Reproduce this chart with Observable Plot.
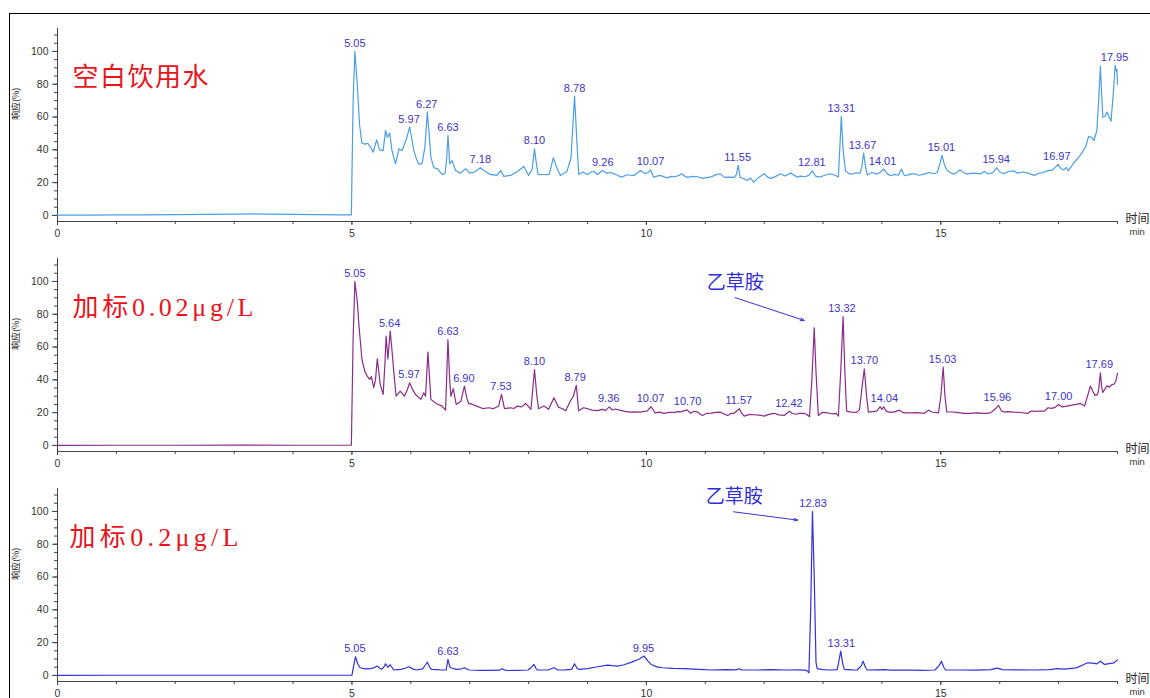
<!DOCTYPE html>
<html>
<head>
<meta charset="utf-8">
<script src="https://cdn.jsdelivr.net/npm/d3@7"></script>
<script src="https://cdn.jsdelivr.net/npm/@observablehq/plot@0.6"></script>
<style>
  body { margin: 0; background: #fff; }
  #wrap { position: relative; width: 1150px; height: 698px; overflow: hidden; background: #fff; }
  #frame { position: absolute; left: 9px; top: 13px; width: 1160px; height: 700px; border: 1px solid #000; box-sizing: border-box; }
  .panel { position: absolute; left: 0; }
</style>
</head>
<body>
<div id="wrap">
  <div id="frame"></div>
  <div class="panel" id="p1" style="top:0px"></div>
  <div class="panel" id="p2" style="top:230px"></div>
  <div class="panel" id="p3" style="top:460px"></div>
</div>
<script>
// ---------- data (time in min, response in %) ----------
const panelTitles = ["空白饮用水", "加标0.02μg/L", "加标0.2μg/L"];
const yTitle = "响应(%)";
const xTitle = "时间";
const xUnit = "min";
const xMajorTicks = [0, 5, 10, 15];
const xMinorTicks = [0,1,2,3,4,5,6,7,8,9,10,11,12,13,14,15,16,17,18];
const yMajorTicks = [0, 20, 40, 60, 80, 100];
const yMinorTicks = [0,5,10,15,20,25,30,35,40,45,50,55,60,65,70,75,80,85,90,95,100,105,110];

const blankWater = [[0,0.2],[0.5,0.2],[1,0.3],[1.5,0.3],[2,0.5],[2.5,0.6],[3,0.8],[3.3,1.0],[3.6,0.8],[4,0.7],[4.4,0.5],[4.8,0.4],[4.99,0.4],
[5.02,70],[5.05,100],[5.09,80],[5.13,55],[5.17,44],[5.22,43.5],[5.27,44],[5.31,42],[5.36,38.6],[5.42,46.1],[5.47,40],[5.53,39.5],[5.57,51.8],[5.60,47.6],[5.64,50.2],[5.68,39.5],[5.74,31.5],[5.80,40.7],[5.85,39.6],[5.92,46],[5.98,53.9],[6.02,46],[6.05,39.6],[6.10,34],[6.13,31.5],[6.19,31.5],[6.24,42],[6.28,63],[6.31,50],[6.34,35.6],[6.39,29.1],[6.45,28.5],[6.53,25],[6.58,25.4],[6.61,35],[6.63,48.8],[6.66,31.5],[6.70,33.5],[6.76,27.4],[6.84,25.8],[6.93,28.5],[7.00,25.8],[7.08,26.5],[7.18,29.1],[7.26,27],[7.35,25],[7.46,24.4],[7.53,27.4],[7.58,23.8],[7.69,24.4],[7.81,26.8],[7.92,29.9],[8.00,24.4],[8.06,28],[8.10,40.6],[8.13,32],[8.16,25],[8.26,24.8],[8.35,25],[8.42,35.2],[8.47,29.9],[8.54,24.4],[8.65,26.8],[8.72,35],[8.78,72.8],[8.82,45],[8.85,25],[8.92,26.5],[9.00,25],[9.06,26.5],[9.11,26.8],[9.17,25],[9.25,27.4],[9.33,25.8],[9.39,26.2],[9.44,25.5],[9.50,24.8],[9.56,23.4],[9.62,24],[9.67,24.8],[9.73,24.5],[9.79,24.4],[9.85,26],[9.90,27.4],[9.98,25.4],[10.03,26.2],[10.07,27.8],[10.12,23.4],[10.18,24],[10.24,24.4],[10.30,23.5],[10.35,22.9],[10.42,23.8],[10.49,23.6],[10.55,24.4],[10.60,25.4],[10.66,23.8],[10.70,23.2],[10.78,23.8],[10.87,23.6],[10.95,22.6],[11.04,23.2],[11.10,23.5],[11.15,24.4],[11.25,25.4],[11.33,23.2],[11.40,23.4],[11.49,23.2],[11.53,25],[11.56,30.5],[11.59,23.2],[11.65,22.5],[11.71,21.3],[11.77,22.8],[11.82,20.3],[11.87,22],[11.91,23.2],[12.00,25.4],[12.05,23.5],[12.11,22.6],[12.18,23.5],[12.28,25.4],[12.35,24],[12.45,25.8],[12.56,23.4],[12.62,24],[12.70,23.6],[12.76,24.6],[12.82,27.2],[12.87,24],[12.95,23.4],[13.03,24.5],[13.12,25.4],[13.20,24.5],[13.26,23.4],[13.29,45],[13.31,60.4],[13.34,40],[13.38,27.2],[13.44,25.5],[13.49,25.2],[13.56,26],[13.63,25.8],[13.66,30],[13.69,38],[13.72,30],[13.75,24.7],[13.83,26.2],[13.92,25.2],[13.98,26.5],[14.03,28.3],[14.09,25.5],[14.15,24.2],[14.22,25],[14.28,24.5],[14.33,28.3],[14.37,25],[14.40,24.2],[14.48,25.2],[14.55,25.4],[14.63,24.5],[14.72,25.2],[14.80,26.2],[14.88,25.4],[14.94,26.2],[14.98,31],[15.02,36.6],[15.06,31],[15.10,27.8],[15.16,26],[15.22,25.2],[15.28,26.5],[15.33,27.8],[15.39,26],[15.45,25.2],[15.52,25.8],[15.60,25.6],[15.68,25.4],[15.74,26.8],[15.80,25.4],[15.88,26],[15.95,29.1],[16.00,26.5],[16.07,25.4],[16.15,26.8],[16.24,27.2],[16.30,25.8],[16.40,26.5],[16.50,25.6],[16.58,24.4],[16.66,25.6],[16.74,26.2],[16.81,27.2],[16.90,27.8],[16.99,31.1],[17.04,28.5],[17.09,27.8],[17.13,29.2],[17.16,27.2],[17.21,29.5],[17.26,32.3],[17.33,35],[17.40,38.4],[17.46,42],[17.51,48.2],[17.56,47.5],[17.60,45.7],[17.65,51.8],[17.68,70],[17.71,90.9],[17.73,75],[17.75,59.9],[17.79,60.5],[17.82,63],[17.86,60],[17.89,57.5],[17.93,75],[17.96,91.5],[17.98,88],[17.99,89],[18.00,80]];

const spike002 = [[0,0],[1,0.1],[2,0.1],[3,0.2],[4,0.1],[4.99,0.2],[5.02,65],[5.05,100],[5.09,88],[5.12,72.8],[5.17,52.4],[5.22,45],[5.26,42.3],[5.30,40.3],[5.33,42],[5.37,35.2],[5.40,40],[5.43,52.8],[5.46,44],[5.48,37.2],[5.53,31.1],[5.56,50],[5.58,66.7],[5.61,52.8],[5.65,69.7],[5.68,58],[5.71,45.3],[5.75,30],[5.82,33.1],[5.89,30],[5.94,34],[5.98,38.2],[6.03,34],[6.08,31.1],[6.17,28.1],[6.22,32.1],[6.25,30],[6.29,56.9],[6.32,40],[6.34,28.1],[6.43,25.6],[6.53,24],[6.59,21.5],[6.63,64.6],[6.66,40],[6.68,30],[6.72,34.6],[6.77,25],[6.85,27],[6.91,36.2],[6.95,29],[6.98,25.6],[7.05,25],[7.12,24],[7.23,22.4],[7.32,23],[7.40,22.4],[7.49,24],[7.54,31.1],[7.59,22.4],[7.69,23],[7.75,22.5],[7.81,24],[7.88,23.5],[7.95,25.6],[8.04,22],[8.10,46.3],[8.14,30],[8.17,22.4],[8.26,24],[8.34,22],[8.43,29.1],[8.51,23.2],[8.57,22.5],[8.63,21.1],[8.68,25],[8.71,27.2],[8.76,30],[8.81,36.6],[8.85,21.1],[8.93,23],[9.00,22.4],[9.08,21.5],[9.17,21.2],[9.25,22],[9.31,21.4],[9.37,23.5],[9.42,21.6],[9.48,22.2],[9.56,21.4],[9.64,20.8],[9.73,20.3],[9.79,20.5],[9.90,20.3],[9.96,20.8],[10.01,20.9],[10.08,23.6],[10.15,19.9],[10.22,20.3],[10.30,19.6],[10.38,20.2],[10.47,20.1],[10.53,20.6],[10.58,20.5],[10.65,21.2],[10.69,21.7],[10.75,19.6],[10.81,20.8],[10.86,20.5],[10.95,18.3],[11.03,19.6],[11.10,19.7],[11.18,20.2],[11.25,20.3],[11.32,19.2],[11.38,18.3],[11.44,19.5],[11.49,19.6],[11.58,22.4],[11.62,19.5],[11.66,17.9],[11.75,18.9],[11.83,18.7],[11.92,18.5],[12.00,17.9],[12.08,18.9],[12.17,19.6],[12.25,18.6],[12.34,18.3],[12.43,20.9],[12.48,19.5],[12.53,19],[12.60,19.5],[12.67,19.6],[12.72,19],[12.77,17.5],[12.81,40],[12.85,71.7],[12.88,45],[12.92,18.3],[12.99,20.2],[13.06,20],[13.15,19.3],[13.22,19.5],[13.26,17.9],[13.30,45],[13.34,78.5],[13.37,45],[13.40,20.9],[13.48,20.3],[13.57,20.2],[13.62,22],[13.66,35],[13.70,46.7],[13.74,30],[13.77,20.3],[13.84,20.6],[13.91,20.9],[13.97,23.6],[14.00,22],[14.03,23.6],[14.07,21],[14.11,20.3],[14.20,20.3],[14.30,21.5],[14.36,20],[14.42,19.9],[14.52,19.9],[14.60,20],[14.72,19.6],[14.79,21.5],[14.85,20.4],[14.96,19.9],[15.00,30],[15.04,47.8],[15.07,30],[15.10,20.5],[15.18,20.4],[15.27,20.2],[15.38,19.5],[15.50,19.5],[15.62,19.8],[15.72,19.5],[15.78,19.6],[15.85,20],[15.93,22.5],[15.98,24.4],[16.03,21],[16.07,20.5],[16.15,20.6],[16.24,20.3],[16.35,20.1],[16.48,19.6],[16.53,21],[16.60,20.8],[16.68,21],[16.76,20.9],[16.82,23],[16.88,22.6],[16.94,23.2],[17.00,25],[17.06,23.5],[17.14,24],[17.22,24.6],[17.30,25],[17.37,25.6],[17.44,24],[17.49,30],[17.54,36.2],[17.58,33],[17.62,30.5],[17.66,31],[17.68,34],[17.71,44.3],[17.73,36],[17.75,32.3],[17.78,34],[17.82,36.4],[17.86,35.5],[17.90,37],[17.94,37.4],[17.97,39],[18.00,44]];

const spike02 = [[0,0],[1,0.1],[2,0.1],[3,0.1],[4,0.1],[5.0,0.1],[5.03,6],[5.06,11.4],[5.10,7],[5.14,4.7],[5.22,4],[5.31,4.1],[5.37,4.6],[5.43,5.7],[5.50,3.7],[5.54,5],[5.57,7.1],[5.61,5],[5.65,6.5],[5.71,3.3],[5.77,3.6],[5.83,3.7],[5.90,4.4],[5.97,5.3],[6.03,4],[6.09,3.3],[6.20,4],[6.25,6.5],[6.28,8.1],[6.32,5],[6.35,3.7],[6.45,3.5],[6.51,3.3],[6.60,3.3],[6.63,9.8],[6.66,5.5],[6.68,4.7],[6.77,3.7],[6.84,3.8],[6.91,4.7],[6.96,3.6],[7.00,3.3],[7.20,3.1],[7.36,3.1],[7.50,3.2],[7.55,4.1],[7.60,3.2],[7.65,3],[7.80,3.1],[7.99,3.3],[8.05,5],[8.09,6.7],[8.13,4],[8.15,3.3],[8.33,3.3],[8.43,4.7],[8.50,3.3],[8.62,3.4],[8.73,3.7],[8.78,7.1],[8.82,4.5],[8.85,3.7],[9.00,4.1],[9.17,5.3],[9.34,6.3],[9.51,5.7],[9.62,6.5],[9.75,8.1],[9.88,10],[9.96,11.8],[10.02,9],[10.08,6.7],[10.18,5.2],[10.27,4.7],[10.45,4.3],[10.65,4.1],[10.88,3.7],[11.10,3.3],[11.35,3.6],[11.52,3.4],[11.57,4.1],[11.62,3.4],[11.87,3.3],[12.10,3.5],[12.38,3.3],[12.60,3.4],[12.72,3.1],[12.76,1.6],[12.79,40],[12.82,100],[12.85,60],[12.88,8],[12.90,4.1],[13.00,3.5],[13.13,3.3],[13.24,3.6],[13.27,9],[13.30,14.8],[13.33,8],[13.36,3.7],[13.50,3.4],[13.58,3.3],[13.65,6],[13.68,8.7],[13.72,5],[13.75,3.3],[13.90,3.4],[14.05,3.6],[14.15,3.2],[14.30,3.3],[14.50,3.2],[14.70,3.1],[14.90,3.3],[14.97,6],[15.01,8.7],[15.05,5],[15.08,3.3],[15.30,3.3],[15.60,3.2],[15.85,3.5],[15.95,4.5],[16.05,3.5],[16.30,3.4],[16.60,3.3],[16.85,3.6],[16.98,4.1],[17.10,3.8],[17.30,4.6],[17.42,6.5],[17.49,7.7],[17.58,7.5],[17.65,7.1],[17.71,8.7],[17.78,6.7],[17.86,7.2],[17.94,7.7],[18.00,9.5]];

const blankPeakLabels = ["5.05","5.97","6.27","6.63","7.18","8.10","8.78","9.26","10.07","11.55","12.81","13.31","13.67","14.01","15.01","15.94","16.97","17.95"];
const spike002PeakLabels = ["5.05","5.64","5.97","6.63","6.90","7.53","8.10","8.79","9.36","10.07","10.70","11.57","12.42","13.32","13.70","14.04","15.03","15.96","17.00","17.69"];
const spike02PeakLabels = ["5.05","6.63","9.95","12.83","13.31"];

const noteText = "乙草胺";
// [text time, text response, arrow start time, start response, arrow end time, end response]
const note002 = [11.51, 99.4, 11.51, 90.1, 12.68, 76.2];
const note02 = [11.49, 108.8, 11.48, 99.8, 12.57, 94.7];

// ---------- drawing ----------
const CJK = '"Noto Sans CJK SC", sans-serif';
const SANS = '"Liberation Sans", Arial, sans-serif';
const TITLE_FONT = '"Liberation Serif", "Noto Sans CJK SC", serif';
const Y_DOMAIN = [-3.7, 114];
const X_DOMAIN = [0, 18];

function peakHeight(series, label) {
  const t = +label;
  return d3.max(series.filter(d => Math.abs(d[0] - t) <= 0.041), d => d[1]);
}

function panel({series, color, title, titleDx, titleLength, peaks, note}) {
  const marks = [
    Plot.ruleX([X_DOMAIN[0]], {stroke: "#444", strokeWidth: 1}),
    Plot.ruleY([Y_DOMAIN[0]], {stroke: "#444", strokeWidth: 1}),
    Plot.axisY({ticks: yMinorTicks, tickSize: 3, text: null, label: null, stroke: "#444"}),
    Plot.axisY({ticks: yMajorTicks, tickSize: 5, tickPadding: 4, label: null, tickFormat: d => String(d),
      stroke: "#444", fill: "#333", fontSize: 10.5, fontFamily: SANS}),
    Plot.axisX({ticks: xMinorTicks, tickSize: 3, text: null, label: null, stroke: "#444"}),
    Plot.axisX({ticks: xMajorTicks, tickSize: 4, tickPadding: 4, label: null, tickFormat: d => String(d),
      stroke: "#444", fill: "#333", fontSize: 10.5, fontFamily: SANS}),
    Plot.line(series, {x: d => d[0], y: d => d[1], stroke: color, strokeWidth: 1.2}),
    Plot.text(peaks, {x: d => +d, y: d => peakHeight(series, d), text: d => d, dy: -8,
      fill: "#3d33c6", fontSize: 11, fontFamily: SANS}),
    Plot.text([title], {frameAnchor: "top-left", textAnchor: "start", dx: titleDx, dy: 39,
      fill: "#e8141c", fontSize: 26, fontFamily: TITLE_FONT}),
    Plot.text([yTitle], {frameAnchor: "left", rotate: -90, dx: -41, dy: -5,
      fill: "#222", fontSize: 9, fontFamily: CJK}),
    Plot.text([xTitle], {frameAnchor: "bottom-right", textAnchor: "start", dx: 8, dy: 1,
      fill: "#222", fontSize: 12, fontFamily: CJK}),
    Plot.text([xUnit], {frameAnchor: "bottom-right", textAnchor: "start", dx: 12, dy: 13,
      fill: "#333", fontSize: 9.5, fontFamily: SANS})
  ];
  if (note) {
    marks.push(
      Plot.arrow([note], {x1: d => d[2], y1: d => d[3], x2: d => d[4], y2: d => d[5],
        stroke: "#3535d0", strokeWidth: 1, headLength: 6, headAngle: 40}),
      Plot.text([note], {x: d => d[0], y: d => d[1], text: () => noteText,
        fill: "#2f2fd4", fontSize: 19, fontFamily: CJK})
    );
  }
  const svg = Plot.plot({
    width: 1150, height: 240,
    marginLeft: 57, marginRight: 33, marginTop: 28, marginBottom: 19,
    x: {domain: X_DOMAIN},
    y: {domain: Y_DOMAIN},
    style: {background: "transparent", overflow: "visible", fontFamily: SANS},
    marks
  });
  d3.select(svg).selectAll("text")
    .filter(function () { return this.textContent === title; })
    .attr("textLength", titleLength).attr("lengthAdjust", "spacing");
  return svg;
}

document.getElementById("p1").appendChild(panel({
  series: blankWater, color: "#4a9fe6", title: panelTitles[0], titleDx: 15, titleLength: 136,
  peaks: blankPeakLabels, note: null}));
document.getElementById("p2").appendChild(panel({
  series: spike002, color: "#8a2d88", title: panelTitles[1], titleDx: 15, titleLength: 181,
  peaks: spike002PeakLabels, note: note002}));
document.getElementById("p3").appendChild(panel({
  series: spike02, color: "#3232d8", title: panelTitles[2], titleDx: 12, titleLength: 169,
  peaks: spike02PeakLabels, note: note02}));
</script>
</body>
</html>
